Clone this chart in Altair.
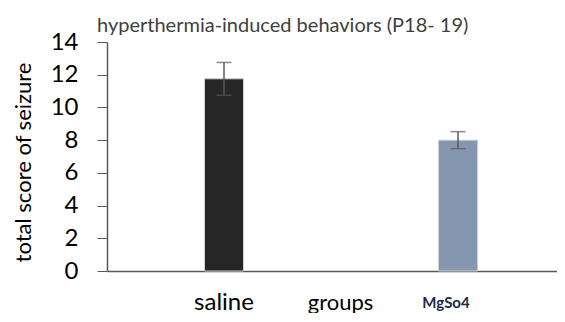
import altair as alt
import pandas as pd

groups = ["saline", "MgSo4"]
means = [11.75, 8.0]
errors = [1.0, 0.52]
colors = ["#262626", "#8496b0"]
y_ticks = [0, 2, 4, 6, 8, 10, 12, 14]

df = pd.DataFrame({
    "group": groups,
    "mean": means,
    "lo": [m - e for m, e in zip(means, errors)],
    "hi": [m + e for m, e in zip(means, errors)],
    "color": colors,
})

is_mg = "datum.value == 'MgSo4'"

x_scale = alt.Scale(paddingInner=0, paddingOuter=0, range=[0, 468])
y_scale = alt.Scale(domain=[0, 14])

x_axis = alt.Axis(
    title="groups",
    titleFont="Lato",
    titleFontSize=22,
    titleFontWeight="normal",
    titleColor="#000000",
    titleX=233,
    titleY=38,
    titleBaseline="alphabetic",
    labelAngle=0,
    labelFont="Lato",
    labelFontSize={"condition": {"test": is_mg, "value": 15}, "value": 24},
    labelFontWeight={"condition": {"test": is_mg, "value": "bold"}, "value": "normal"},
    labelColor={"condition": {"test": is_mg, "value": "#1f2a44"}, "value": "#000000"},
    labelPadding={"condition": {"test": is_mg, "value": 24}, "value": 19},
    labelOffset={"condition": {"test": is_mg, "value": -12}, "value": 0},
    labelOverlap=False,
    ticks=False,
    domainColor="#595959",
    domainWidth=1.5,
)

y_axis = alt.Axis(
    values=y_ticks,
    labelOverlap=False,
    grid=False,
    title="total score of seizure",
    titleFont="Lato",
    titleFontSize=22,
    titleFontWeight="normal",
    titleColor="#000000",
    titleX=-84,
    titleY=120,
    titleAngle=-90,
    titleBaseline="middle",
    labelFont="Lato",
    labelFontSize=24,
    labelColor="#000000",
    labelPadding=19,
    tickSize=10,
    tickColor="#595959",
    domainColor="#595959",
    domainWidth=1.5,
)

xe = alt.X("group:N", sort=groups, scale=x_scale, axis=x_axis)

bars = alt.Chart(df).mark_bar(size=39, stroke="#d0d0d0", strokeWidth=1).encode(
    x=xe,
    y=alt.Y("mean:Q", scale=y_scale, axis=y_axis),
    color=alt.Color("color:N", scale=None),
)

rules = alt.Chart(df).mark_rule(color="#595959", strokeWidth=1.5).encode(
    x=xe,
    y=alt.Y("lo:Q", scale=y_scale, axis=y_axis),
    y2="hi:Q",
)
cap_hi = alt.Chart(df).mark_tick(color="#595959", size=15, thickness=1.5).encode(
    x=xe,
    y=alt.Y("hi:Q", scale=y_scale, axis=y_axis),
)
cap_lo = alt.Chart(df).mark_tick(color="#595959", size=15, thickness=1.5).encode(
    x=xe,
    y=alt.Y("lo:Q", scale=y_scale, axis=y_axis),
)

chart = (
    alt.layer(bars, rules, cap_hi, cap_lo)
    .properties(
        width=450,
        height=229,
        autosize=alt.AutoSizeParams(type="none"),
        padding={"left": 99, "top": 34, "right": 0, "bottom": 42},
        title=alt.TitleParams(
            "hyperthermia-induced behaviors (P18- 19)",
            anchor="start",
            frame="group",
            dx=-10,
            offset=-6,
            font="Lato",
            fontSize=20,
            fontWeight="normal",
            color="#404040",
        ),
    )
    .configure_view(stroke=None)
)

chart.save("out.html", embed_options={"renderer": "svg", "actions": False})
